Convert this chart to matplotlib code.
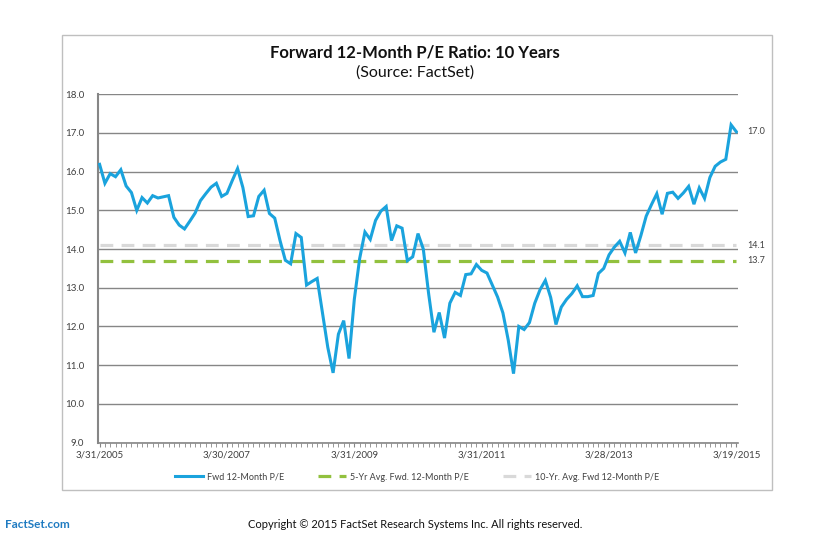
import numpy as np
import matplotlib.pyplot as plt
from matplotlib.patches import Rectangle
from matplotlib.ticker import MultipleLocator

plt.rcParams["font.family"] = ["Lato", "DejaVu Sans"]

# monthly forward 12-month P/E, 3/31/2005 .. 3/19/2015
fwd_pe = [
    16.19, 15.70, 15.95, 15.87, 16.05, 15.63, 15.46, 15.00, 15.33, 15.19,
    15.38, 15.32, 15.35, 15.38, 14.82, 14.62, 14.52, 14.72, 14.93, 15.25,
    15.43, 15.60, 15.70, 15.36, 15.44, 15.77, 16.08, 15.59, 14.84, 14.86,
    15.36, 15.52, 14.92, 14.80, 14.22, 13.71, 13.62, 14.40, 14.30, 13.07,
    13.16, 13.24, 12.35, 11.46, 10.80, 11.80, 12.15, 11.17, 12.70, 13.75,
    14.44, 14.25, 14.74, 14.98, 15.10, 14.22, 14.60, 14.54, 13.70, 13.80,
    14.40, 14.00, 12.85, 11.85, 12.36, 11.70, 12.60, 12.88, 12.80, 13.34,
    13.36, 13.60, 13.45, 13.38, 13.07, 12.76, 12.35, 11.65, 10.78, 12.00,
    11.92, 12.10, 12.60, 12.95, 13.19, 12.75, 12.05, 12.50, 12.70, 12.85,
    13.05, 12.77, 12.77, 12.80, 13.37, 13.50, 13.85, 14.05, 14.20, 13.90,
    14.43, 13.90, 14.35, 14.85, 15.15, 15.43, 14.90, 15.44, 15.47, 15.31,
    15.45, 15.62, 15.16, 15.58, 15.31, 15.85, 16.14, 16.25, 16.32, 17.21,
    17.03,
]
avg_5yr = 13.7
avg_10yr = 14.1
date_labels = ["3/31/2005", "3/30/2007", "3/31/2009", "3/31/2011", "3/28/2013", "3/19/2015"]

blue = "#1aa3dd"
green = "#92c13e"
light_gray = "#d9d9d9"
grid_gray = "#868686"
text_col = "#404040"

x = np.arange(len(fwd_pe))
n = len(fwd_pe) - 1

fig = plt.figure(figsize=(8.13, 5.36), dpi=100)
fig.patches.append(Rectangle((62 / 813, 1 - 490 / 536), 710 / 813, 455 / 536,
                             transform=fig.transFigure, fill=False,
                             edgecolor="#bfbfbf", lw=1))

ax = fig.add_axes([98 / 813, 1 - 442.5 / 536, 640 / 813, 348.2 / 536])

ax.plot(x, np.full(len(x), avg_5yr), color=green, lw=2.3, dashes=(4, 2.6),
        label="5-Yr Avg. Fwd. 12-Month P/E")
ax.plot(x, np.full(len(x), avg_10yr), color=light_gray, lw=2.3, dashes=(4, 2.6),
        label="10-Yr. Avg. Fwd 12-Month P/E")
ax.plot(x, fwd_pe, color=blue, lw=2.2, solid_joinstyle="miter",
        label="Fwd 12-Month P/E", zorder=3)

ax.set_xlim(-0.3, n + 0.3)
ax.set_ylim(9, 18)
ax.set_yticks(np.arange(9, 18.5, 1))
ax.set_yticklabels([f"{v:.1f}" for v in np.arange(9, 18.5, 1)])
ax.yaxis.grid(True, color=grid_gray, lw=1)
ax.set_axisbelow(True)
ax.set_xticks(np.arange(0, n + 1, 24))
ax.set_xticklabels(date_labels)
ax.xaxis.set_minor_locator(MultipleLocator(1))
ax.tick_params(axis="x", which="both", direction="out", length=3, color=grid_gray,
               labelsize=7, labelcolor=text_col, pad=3)
ax.tick_params(axis="y", length=0, labelsize=7, labelcolor=text_col, pad=10)
for s in ["top", "right"]:
    ax.spines[s].set_visible(False)
ax.spines["left"].set_color(grid_gray)
ax.spines["left"].set_linewidth(1.5)
ax.spines["bottom"].set_color(grid_gray)
ax.spines["bottom"].set_linewidth(1.2)

# end-of-line value labels
ax.text(n + 2, fwd_pe[-1], f"{fwd_pe[-1]:.1f}", fontsize=6.5, color=text_col,
        va="center", ha="left", clip_on=False)
ax.text(n + 2, avg_10yr, f"{avg_10yr:.1f}", fontsize=6.5, color=text_col,
        va="center", ha="left", clip_on=False)
ax.text(n + 2, avg_5yr, f"{avg_5yr:.1f}", fontsize=6.5, color=text_col,
        va="center", ha="left", clip_on=False)

fig.text(415 / 813, 1 - 52 / 536, "Forward 12-Month P/E Ratio: 10 Years",
         ha="center", va="center", fontsize=12, fontweight="bold", color="#111111")
fig.text(415 / 813, 1 - 73 / 536, "(Source: FactSet)",
         ha="center", va="center", fontsize=11.5, color="#111111")

h, l = ax.get_legend_handles_labels()
fig.legend([h[2], h[0], h[1]], [l[2], l[0], l[1]], ncol=3, frameon=False,
           loc="center", bbox_to_anchor=(417 / 813, 1 - 477 / 536),
           fontsize=6.5, handlelength=3.1, handletextpad=0.4, columnspacing=3.8,
           labelcolor=text_col)

fig.text(5 / 813, 1 - 524 / 536, "FactSet.com", ha="left", va="center",
         fontsize=8.5, color="#1f7bc1", fontweight="bold")
fig.text(415 / 813, 1 - 524 / 536,
         "Copyright \u00a9 2015 FactSet Research Systems Inc. All rights reserved.",
         ha="center", va="center", fontsize=8, color="#111111")

fig.savefig("out.png", dpi=100)
